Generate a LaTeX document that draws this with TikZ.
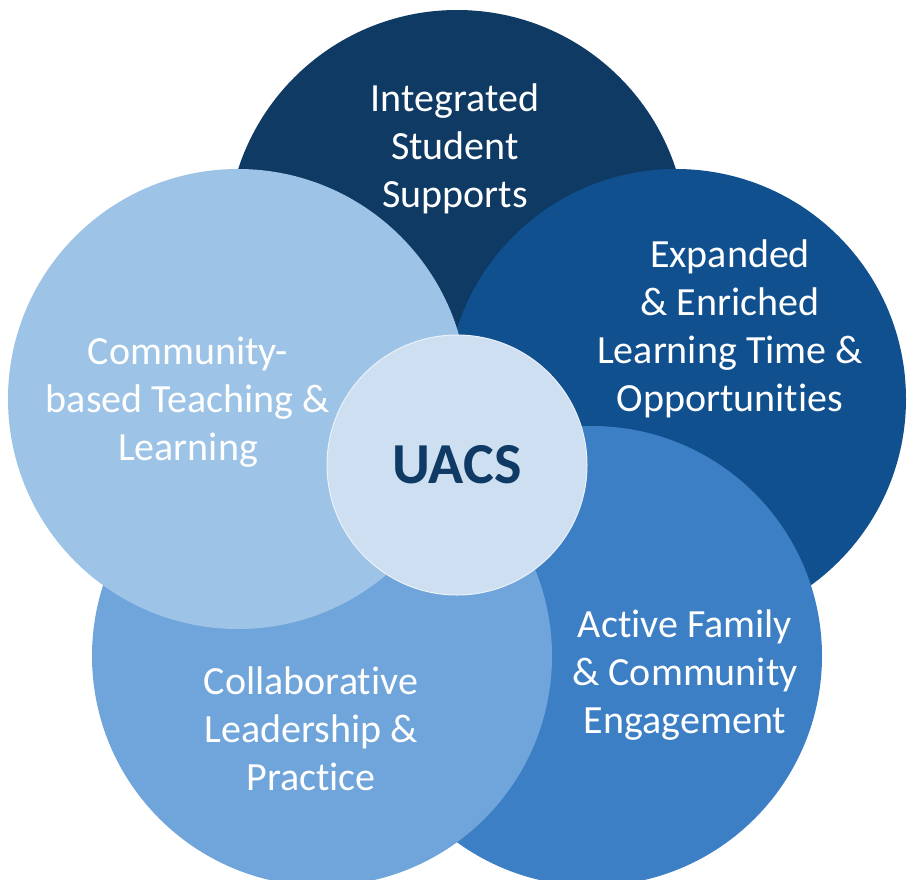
\documentclass[tikz,border=0pt]{standalone}
\usepackage{fontspec}
\setmainfont[Ligatures=NoCommon]{Carlito}
\definecolor{navy}{HTML}{0E3A64}
\definecolor{deepblue}{HTML}{11508F}
\definecolor{midblue}{HTML}{3D7FC4}
\definecolor{softblue}{HTML}{6FA5DA}
\definecolor{paleblue}{HTML}{9DC3E6}
\definecolor{coreblue}{HTML}{CDDFF1}
\tikzstyle{petal}=[circle, draw=none, minimum size=460bp, inner sep=0pt]
\tikzstyle{core}=[circle, draw=white!60!coreblue, line width=1bp, fill=coreblue, minimum size=260bp, inner sep=0pt]
\tikzstyle{label}=[align=center, text=white, font=\fontsize{40bp}{48bp}\selectfont]

\begin{document}
\begin{tikzpicture}[x=1bp, y=-1bp]
                \useasboundingbox (0,0) rectangle (914,880);
                \node[petal, fill=navy]     (top)    at (457, 240) {};
                \node[petal, fill=deepblue] (right)  at (676, 399) {};
                \node[petal, fill=midblue]  (lowr)   at (592, 656) {};
                \node[petal, fill=softblue] (lowl)   at (322, 656) {};
                \node[petal, fill=paleblue] (left)   at (238, 399) {};
                \node[core] (uacs) at (457, 465) {};
                \node[label] (supports)  at (455, 149) {Integrated\\Student\\Supports};
                \node[label] (expanded)  at (730, 329) {Expanded\\\& Enriched\\Learning Time \&\\Opportunities};
                \node[label] (community) at (188, 402) {Community-\\based Teaching \&\\Learning};
                \node[label] (family)    at (685, 675) {Active Family\\\& Community\\Engagement};
                \node[label] (leader)    at (311, 729) {Collaborative\\Leadership \&\\Practice};
                \node[text=navy, font=\fontsize{58bp}{60bp}\selectfont\bfseries] (name) at (uacs) {UACS};
            \end{tikzpicture}
\end{document}
